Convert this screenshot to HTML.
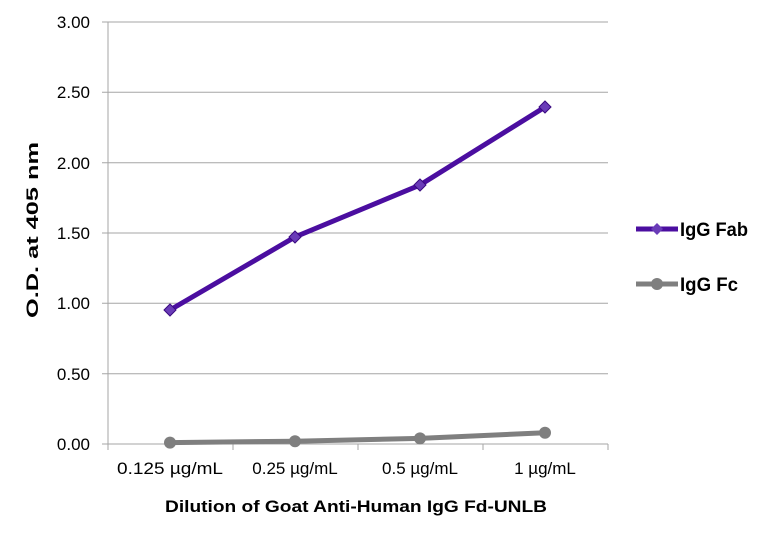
<!DOCTYPE html><html><head><style>body{margin:0;background:#fff}svg{display:block}text{font-family:"Liberation Sans",sans-serif}</style></head><body>
<svg width="768" height="535" xmlns="http://www.w3.org/2000/svg">
<g stroke="#a6a6a6" stroke-width="1">
<line x1="102" y1="22" x2="608" y2="22"/><line x1="102" y1="92.3" x2="608" y2="92.3"/><line x1="102" y1="162.7" x2="608" y2="162.7"/><line x1="102" y1="233" x2="608" y2="233"/><line x1="102" y1="303.3" x2="608" y2="303.3"/><line x1="102" y1="373.7" x2="608" y2="373.7"/><line x1="102" y1="444" x2="608" y2="444"/>
<line x1="108" y1="22" x2="108" y2="450"/>
<line x1="233" y1="444" x2="233" y2="450"/><line x1="358" y1="444" x2="358" y2="450"/><line x1="483" y1="444" x2="483" y2="450"/><line x1="608" y1="444" x2="608" y2="450"/>
</g>
<g font-size="17" fill="#000" text-anchor="end">
<text x="90" y="28">3.00</text><text x="90" y="98">2.50</text><text x="90" y="169">2.00</text><text x="90" y="239">1.50</text><text x="90" y="309">1.00</text><text x="90" y="380">0.50</text><text x="90" y="450">0.00</text>
</g>
<g font-size="17" text-anchor="middle">
<text x="170" y="474" textLength="106" lengthAdjust="spacingAndGlyphs">0.125 µg/mL</text><text x="295" y="474">0.25 µg/mL</text><text x="420" y="474">0.5 µg/mL</text><text x="545" y="474">1 µg/mL</text>
</g>
<text x="356" y="512" font-size="17" font-weight="bold" text-anchor="middle" textLength="382" lengthAdjust="spacingAndGlyphs">Dilution of Goat Anti-Human IgG Fd-UNLB</text>
<text transform="translate(38,230) rotate(-90)" font-size="17" font-weight="bold" text-anchor="middle" textLength="176" lengthAdjust="spacingAndGlyphs">O.D. at 405 nm</text>
<polyline points="170,442.6 295,441.2 420,438.4 545,432.7" fill="none" stroke="#7f7f7f" stroke-width="5"/>
<g fill="#7f7f7f"><circle cx="170" cy="442.6" r="6"/><circle cx="295" cy="441.2" r="6"/><circle cx="420" cy="438.4" r="6"/><circle cx="545" cy="432.7" r="6"/></g>
<polyline points="170,310 295,237 420,185 545,107" fill="none" stroke="#4b0ea0" stroke-width="5"/>
<g fill="#6a3cb8" stroke="#3a0a80" stroke-width="1">
<polygon points="170,304 176,310 170,316 164,310"/><polygon points="295,231 301,237 295,243 289,237"/><polygon points="420,179 426,185 420,191 414,185"/><polygon points="545,101 551,107 545,113 539,107"/></g>
<line x1="636" y1="229" x2="678" y2="229" stroke="#4b0ea0" stroke-width="5"/>
<polygon points="657,223 663,229 657,235 651,229" fill="#6a3cb8"/>
<text x="680" y="236" font-size="19" font-weight="bold" textLength="68" lengthAdjust="spacingAndGlyphs">IgG Fab</text>
<line x1="636" y1="284" x2="678" y2="284" stroke="#7f7f7f" stroke-width="5"/>
<circle cx="657" cy="284" r="6" fill="#7f7f7f"/>
<text x="680" y="291" font-size="19" font-weight="bold" textLength="58" lengthAdjust="spacingAndGlyphs">IgG Fc</text>
</svg></body></html>
